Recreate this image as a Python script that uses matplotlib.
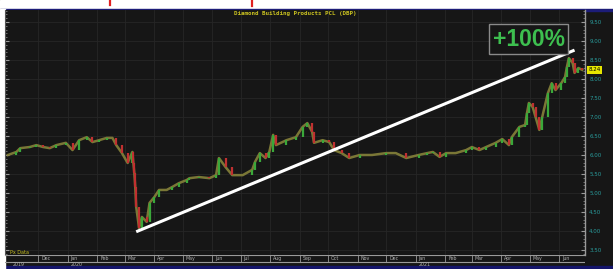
import matplotlib
matplotlib.use("Agg")
import matplotlib.pyplot as plt
import matplotlib.dates as mdates
from matplotlib.patches import Rectangle
from matplotlib.lines import Line2D
from matplotlib.transforms import blended_transform_factory
import numpy as np
import datetime as dt

# ---- data ----
dates = [
    "2019-10-30", "2019-11-08", "2019-11-12", "2019-11-22", "2019-11-29", "2019-12-06",
    "2019-12-13", "2019-12-20", "2019-12-30", "2020-01-06", "2020-01-13", "2020-01-21",
    "2020-01-27", "2020-02-03", "2020-02-11", "2020-02-17", "2020-02-21", "2020-02-27",
    "2020-03-04", "2020-03-09", "2020-03-10", "2020-03-11", "2020-03-12", "2020-03-13",
    "2020-03-16", "2020-03-19", "2020-03-24", "2020-03-27", "2020-04-01", "2020-04-06",
    "2020-04-14", "2020-04-20", "2020-04-27", "2020-05-05", "2020-05-08", "2020-05-18",
    "2020-05-29", "2020-06-05", "2020-06-08", "2020-06-15", "2020-06-22", "2020-07-03",
    "2020-07-13", "2020-07-16", "2020-07-21", "2020-07-27", "2020-07-31", "2020-08-04",
    "2020-08-07", "2020-08-18", "2020-08-28", "2020-09-04", "2020-09-09", "2020-09-14",
    "2020-09-16", "2020-09-25", "2020-10-02", "2020-10-07", "2020-10-15", "2020-10-23",
    "2020-11-03", "2020-11-16", "2020-12-01", "2020-12-11", "2020-12-22", "2021-01-04",
    "2021-01-13", "2021-01-19", "2021-01-26", "2021-02-02", "2021-02-12", "2021-02-23",
    "2021-03-01", "2021-03-09", "2021-03-16", "2021-03-26", "2021-04-02", "2021-04-09",
    "2021-04-12", "2021-04-20", "2021-04-26", "2021-04-28", "2021-04-30", "2021-05-04",
    "2021-05-07", "2021-05-11", "2021-05-14", "2021-05-20", "2021-05-24", "2021-05-28",
    "2021-06-03", "2021-06-07", "2021-06-09", "2021-06-11", "2021-06-15", "2021-06-17",
    "2021-06-21", "2021-06-25",
]
closes = [
    6.00, 6.08, 6.18, 6.21, 6.26, 6.21,
    6.18, 6.26, 6.32, 6.13, 6.39, 6.47,
    6.34, 6.39, 6.45, 6.45, 6.26, 6.05,
    5.79, 6.08, 5.79, 5.53, 5.16, 4.63,
    4.08, 4.37, 4.24, 4.74, 4.89, 5.08,
    5.08, 5.16, 5.26, 5.34, 5.39, 5.42,
    5.39, 5.47, 5.92, 5.68, 5.47, 5.47,
    5.61, 5.82, 6.05, 5.92, 6.08, 6.53,
    6.26, 6.39, 6.47, 6.74, 6.84, 6.61,
    6.32, 6.39, 6.34, 6.13, 6.05, 5.92,
    6.00, 6.00, 6.05, 6.05, 5.92, 6.00,
    6.05, 6.08, 5.95, 6.05, 6.05, 6.13,
    6.21, 6.13, 6.21, 6.32, 6.42, 6.26,
    6.47, 6.74, 6.79, 7.11, 7.37, 7.26,
    7.00, 6.66, 7.00, 7.63, 7.89, 7.71,
    7.89, 8.05, 8.32, 8.55, 8.42, 8.16,
    8.29, 8.24,
]
trend_dates = ["2020-03-13", "2021-06-17"]
trend_prices = [3.98, 8.76]
price_ticks = [3.5, 4.0, 4.5, 5.0, 5.5, 6.0, 6.5, 7.0, 7.5, 8.0, 8.5, 9.0, 9.5]
month_starts = ["2019-12-01", "2020-01-01", "2020-02-01", "2020-03-01", "2020-04-01",
                "2020-05-01", "2020-06-01", "2020-07-01", "2020-08-01", "2020-09-01",
                "2020-10-01", "2020-11-01", "2020-12-01", "2021-01-01", "2021-02-01",
                "2021-03-01", "2021-04-01", "2021-05-01", "2021-06-01"]
month_labels = ["Dec", "Jan", "Feb", "Mar", "Apr", "May", "Jun", "Jul", "Aug", "Sep",
                "Oct", "Nov", "Dec", "Jan", "Feb", "Mar", "Apr", "May", "Jun"]
year_positions = ["2019-11-01", "2020-01-01", "2021-01-01"]
year_labels = ["2019", "2020", "2021"]
title = "Diamond Building Products PCL (DBP)"
gain_label = "+100%"

# ---- helpers ----
def d(s):
    return mdates.date2num(dt.datetime.strptime(s, "%Y-%m-%d"))

x = np.array([d(s) for s in dates])
c = np.array(closes)
W, H = 613, 269
BG = "#161616"

fig = plt.figure(figsize=(W / 100, H / 100), dpi=100)
fig.patch.set_facecolor(BG)

# frame decorations
fig.add_artist(Rectangle((0, 1 - 9 / H), 1, 9 / H, transform=fig.transFigure, color="white", zorder=0))
fig.add_artist(Rectangle((0, 1 - 10.5 / H), 1, 1.5 / H, transform=fig.transFigure, color="#1c1c78", zorder=0))
fig.add_artist(Rectangle((0, 0), 1, 3 / H, transform=fig.transFigure, color="#14146a", zorder=0))
fig.add_artist(Rectangle((0, 0), 5 / W, 1 - 9 / H, transform=fig.transFigure, color="white", zorder=0))
for px, ln in [(110, 5), (252, 6)]:
    fig.add_artist(Line2D([px / W, px / W], [1, 1 - ln / H], transform=fig.transFigure,
                          color="#e02020", lw=1.6))

xmin = mdates.date2num(dt.datetime(2019, 10, 27))
xmax = mdates.date2num(dt.datetime(2021, 6, 28))

ax = fig.add_axes([5 / W, 1 - 255 / H, 580 / W, 245 / H])
ax.set_facecolor(BG)
ax.set_xlim(xmin, xmax)
ax.set_ylim(3.368, 9.816)

# grid
for m in month_starts:
    ax.axvline(d(m), color="#262626", lw=0.6, zorder=0)
for p in price_ticks:
    ax.axhline(p, color="#262626", lw=0.6, zorder=0)

# price path & candle-like bodies (open = previous close)
ax.plot(x, c, color="#86823a", lw=1.8, zorder=2, alpha=0.9)
opens = c[:-1]
cls = c[1:]
cols = ["#3aa83a" if b >= a else "#c03030" for a, b in zip(opens, cls)]
ax.vlines(x[1:], opens, cls, colors=cols, lw=1.6, zorder=3)

# trend line
ax.plot([d(s) for s in trend_dates], trend_prices, color="white", lw=2.2,
        solid_capstyle="butt", zorder=5)

# +100% label
ax.text(d("2021-04-30"), 9.05, gain_label, ha="center", va="center", fontsize=16.5,
        fontweight="bold", family="Liberation Sans", color="#3dbf4f", zorder=6,
        bbox=dict(boxstyle="square,pad=0.15", fc=BG, ec="#8a8a8a", lw=1.0))

# title
fig.text(295 / W, 1 - 14 / H, title, ha="center", va="center", fontsize=4.2,
         family="DejaVu Sans Mono", fontweight="bold", color="#c8c020")

# axes styling
for s in ["top", "bottom"]:
    ax.spines[s].set_visible(False)
ax.spines["left"].set_color("#555555")
ax.spines["right"].set_color("#9a9a9a")
ax.spines["right"].set_linewidth(1.0)
ax.set_xticks([])
ax.yaxis.set_ticks_position("both")
ax.yaxis.set_label_position("right")
ax.set_yticks(price_ticks)
ax.set_yticklabels([f"{p:.2f}" for p in price_ticks])
ax.tick_params(axis="y", which="major", direction="in", length=3, color="#9a9a9a",
               labelleft=False, labelright=True, labelsize=4, labelcolor="#2a9c9c", pad=3)
ax.set_yticks(np.arange(3.4, 9.81, 0.1), minor=True)
ax.tick_params(axis="y", which="minor", direction="in", length=1.5, color="#808080")

# current price box
tr = blended_transform_factory(ax.transAxes, ax.transData)
ax.text(1.006, c[-1], f"{c[-1]:.2f}", transform=tr, ha="left", va="center", fontsize=4,
        color="black", bbox=dict(boxstyle="square,pad=0.25", fc="#e6e600", ec="none"),
        clip_on=False)

# bottom-left tag
fig.text(10 / W, 1 - 253 / H, "Px Data", fontsize=3.5, color="#c8c020", va="center")

# date strip
axd = fig.add_axes([5 / W, 3 / H, 580 / W, 11 / H])
axd.set_facecolor(BG)
axd.set_xlim(xmin, xmax)
axd.set_ylim(0, 1)
axd.axis("off")
axd.axhline(1.0, color="#9a9a9a", lw=0.8)
axd.axhline(0.36, color="#9a9a9a", lw=0.8)
for m, lab in zip(month_starts, month_labels):
    axd.plot([d(m), d(m)], [0.36, 1.0], color="#9a9a9a", lw=0.6)
    axd.text(d(m) + 3, 0.68, lab, fontsize=3.4, color="#b0b0b0", ha="left", va="center")
for m, lab in zip(year_positions, year_labels):
    axd.text(d(m) + 3, 0.16, lab, fontsize=3.4, color="#b0b0b0", ha="left", va="center")

fig.savefig("out.png", dpi=100, facecolor=fig.get_facecolor())
